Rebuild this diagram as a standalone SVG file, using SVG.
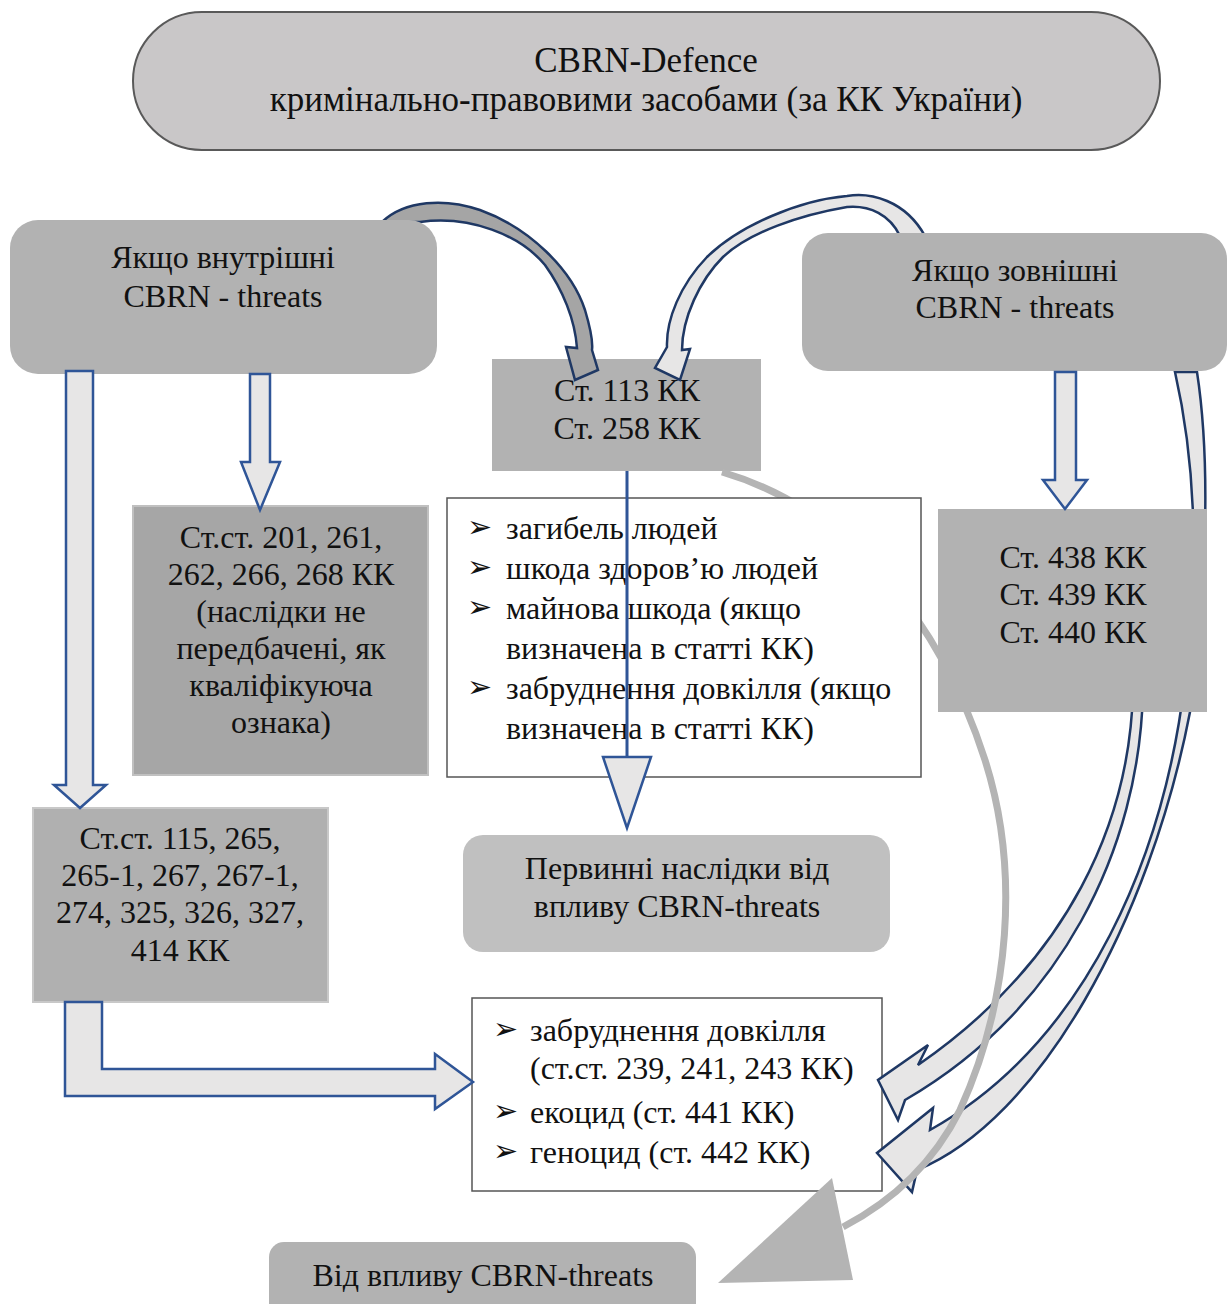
<svg xmlns="http://www.w3.org/2000/svg" width="1228" height="1304" viewBox="0 0 1228 1304">
<defs>
<style>
text{font-family:"Liberation Serif","Times New Roman",serif;font-size:32px;fill:#111;}
.c{text-anchor:middle;}
.t{font-size:35px;}
.bul{font-family:"DejaVu Sans",sans-serif;font-size:30px;}
.box{fill:#b2b2b2;}
.list{fill:#fff;stroke:#555;stroke-width:1.5;}
.barrow{fill:#e7e6e6;stroke:#2f5597;stroke-width:2.5;stroke-linejoin:miter;}
.carrow{fill:#e7e6e6;stroke:#1f3864;stroke-width:2.5;stroke-linejoin:miter;}
</style>
</defs>
<rect width="1228" height="1304" fill="#fff"/>

<g id="nodes-back">
<g id="n113">
<rect x="492" y="359" width="269" height="112" class="box"/>
<text x="627" y="401" class="c">Ст. 113 КК</text>
<text x="627" y="439" class="c">Ст. 258 КК</text>
</g>
<g id="nlist2">
<rect x="472" y="998" width="410" height="193" class="list"/>
<text x="493" y="1039" class="bul">➢</text>
<text x="530" y="1041">забруднення довкілля</text>
<text x="530" y="1079">(ст.ст. 239, 241, 243 КК)</text>
<text x="493" y="1121" class="bul">➢</text>
<text x="530" y="1123">екоцид (ст. 441 КК)</text>
<text x="493" y="1161" class="bul">➢</text>
<text x="530" y="1163">геноцид (ст. 442 КК)</text>
</g>
</g>

<g id="connectors-back">
<path id="arrA" class="carrow" style="fill:#a5a5a5" d="M382,222 C405,200 445,198 480,210 C530,228 572,270 585,310 C591,330 593,342 592,350 L598,370 L575,380 L566,347 L577,348 C575,320 563,290 545,265 C520,235 470,215 420,222 Z"/>
<path id="arrB" class="carrow" d="M925,236 C905,200 870,192 847,196 C800,200 740,225 707,257 C680,285 666,320 667,347 L655,368 L680,380 L690,349 L682,350 C682,318 700,280 723,257 C750,232 800,215 847,207 C870,205 890,215 900,236 Z"/>
<path id="arrE" class="carrow" d="M1175,372 C1195,460 1200,560 1185,680 C1165,850 1090,1040 930,1130 L933,1108 L877,1153 L912,1192 L917,1170 C1040,1120 1150,920 1190,712 C1205,600 1212,470 1197,372 Z"/>
<path id="arrD" class="carrow" d="M1133,690 C1130,820 1070,960 918,1065 L928,1045 L878,1080 L898,1120 L905,1100 C1060,1010 1140,850 1143,690 Z"/>
<g id="arrC">
<path d="M722,472 C850,510 940,620 985,760 C1020,870 1010,1000 960,1110 C930,1170 885,1205 843,1227" fill="none" stroke="#b4b4b4" stroke-width="7"/>
<polygon points="832,1178 853,1280 718,1283" fill="#b4b4b4"/>
</g>
</g>

<g id="nodes">
<g id="ntitle">
<rect x="133" y="12" width="1027" height="138" rx="69" fill="#c9c7c8" stroke="#595959" stroke-width="2"/>
<text x="646" y="72" class="c t">CBRN-Defence</text>
<text x="646" y="111" class="c t">кримінально-правовими засобами (за КК України)</text>
</g>
<g id="ninternal">
<rect x="10" y="220" width="427" height="154" rx="28" class="box"/>
<text x="223" y="268" class="c">Якщо внутрішні</text>
<text x="223" y="307" class="c">CBRN - threats</text>
</g>
<g id="nexternal">
<rect x="802" y="233" width="425" height="138" rx="26" class="box"/>
<text x="1015" y="281" class="c">Якщо зовнішні</text>
<text x="1015" y="318" class="c">CBRN - threats</text>
</g>
<g id="n201">
<rect x="133" y="506" width="295" height="269" fill="#a6a6a6" stroke="#c0c0c0" stroke-width="2"/>
<text x="281" y="548" class="c">Ст.ст. 201, 261,</text>
<text x="281" y="585" class="c">262, 266, 268 КК</text>
<text x="281" y="622" class="c">(наслідки не</text>
<text x="281" y="659" class="c">передбачені, як</text>
<text x="281" y="696" class="c">кваліфікуюча</text>
<text x="281" y="733" class="c">ознака)</text>
</g>
<g id="n115">
<rect x="33" y="808" width="295" height="194" fill="#b0b0b0" stroke="#c8c8c8" stroke-width="2"/>
<text x="180" y="849" class="c">Ст.ст. 115, 265,</text>
<text x="180" y="886" class="c">265-1, 267, 267-1,</text>
<text x="180" y="923" class="c">274, 325, 326, 327,</text>
<text x="180" y="961" class="c">414 КК</text>
</g>
<g id="nlist1">
<rect x="447" y="498" width="474" height="279" class="list"/>
<text x="467" y="537" class="bul">➢</text>
<text x="506" y="539">загибель людей</text>
<text x="467" y="577" class="bul">➢</text>
<text x="506" y="579">шкода здоров’ю людей</text>
<text x="467" y="617" class="bul">➢</text>
<text x="506" y="619">майнова шкода (якщо</text>
<text x="506" y="659">визначена в статті КК)</text>
<text x="467" y="697" class="bul">➢</text>
<text x="506" y="699">забруднення довкілля (якщо</text>
<text x="506" y="739">визначена в статті КК)</text>
</g>
<g id="nprimary">
<rect x="463" y="835" width="427" height="117" rx="20" fill="#c0c0c0"/>
<text x="677" y="879" class="c">Первинні наслідки від</text>
<text x="677" y="917" class="c">впливу CBRN-threats</text>
</g>
<g id="n438">
<rect x="938" y="509" width="269" height="203" class="box"/>
<text x="1073" y="568" class="c">Ст. 438 КК</text>
<text x="1073" y="605" class="c">Ст. 439 КК</text>
<text x="1073" y="643" class="c">Ст. 440 КК</text>
</g>
<g id="nimpact">
<rect x="269" y="1242" width="427" height="80" rx="15" class="box"/>
<text x="483" y="1286" class="c">Від впливу CBRN-threats</text>
</g>
</g>

<g id="connectors-front">
<g id="arrPrimary">
<line x1="627" y1="471" x2="627" y2="757" stroke="#2f5597" stroke-width="3"/>
<polygon points="603,757 651,757 627,828" class="barrow"/>
</g>
<polygon id="arr1" class="barrow" points="66,371 93,371 93,785 106,785 80,808 54,785 66,785"/>
<polygon id="arr2" class="barrow" points="250,374 270,374 270,462 280,462 260,510 241,462 250,462"/>
<polygon id="arr3" class="barrow" points="1055,372 1076,372 1076,480 1087,480 1065,509 1043,480 1055,480"/>
<polygon id="arr4" class="barrow" points="65,1002 102,1002 102,1069 435,1069 435,1054 473,1082 435,1109 435,1096 65,1096"/>
</g>
</svg>
